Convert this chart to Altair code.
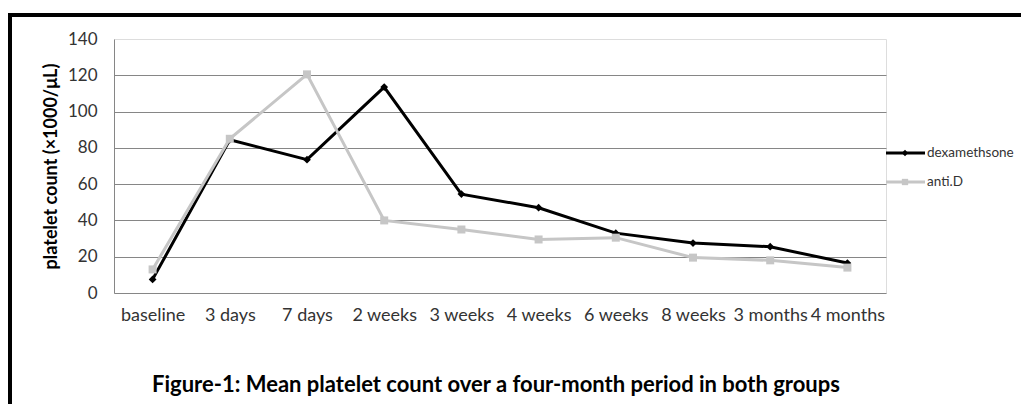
import altair as alt
import pandas as pd

categories = ["baseline", "3 days", "7 days", "2 weeks", "3 weeks", "4 weeks",
              "6 weeks", "8 weeks", "3 months", "4 months"]
dexamethsone = [7.5, 84.5, 73.5, 113.5, 54.5, 47, 33, 27.5, 25.5, 16.5]
anti_d = [13, 85, 120.5, 40, 35, 29.5, 30.5, 19.5, 18, 14]
series_names = ["dexamethsone", "anti.D"]
y_ticks = [0, 20, 40, 60, 80, 100, 120, 140]
y_title = "platelet count (×1000/μL)"
caption = "Figure-1: Mean platelet count over a four-month period in both groups"

W, H = 772, 254
FONT = "Lato"
DEX_COLOR = "#000000"
ANT_COLOR = "#c6c6c6"

df = pd.DataFrame({
    "cat": categories * 2,
    "v": dexamethsone + anti_d,
    "s": [series_names[0]] * len(categories) + [series_names[1]] * len(categories),
})
one = pd.DataFrame({"a": [0]})

x_enc = alt.X("cat:N", sort=categories,
              scale=alt.Scale(type="point", padding=0.5),
              axis=alt.Axis(labelAngle=0, domain=False, ticks=False, grid=False,
                            labelPadding=13, labelFontSize=18, labelFont=FONT,
                            labelColor="#333333", labelOverlap=False, labelBound=False,
                            title=None))
y_enc = alt.Y("v:Q", scale=alt.Scale(domain=[0, 140], nice=False, zero=True),
              axis=alt.Axis(values=y_ticks, grid=True, gridColor="#868686",
                            gridOpacity=alt.condition("datum.value == 140", alt.value(0), alt.value(1)),
                            domain=True, domainColor="#868686", ticks=False,
                            labelPadding=17, labelFontSize=17, labelFont=FONT,
                            labelColor="#333333", title=y_title, titleFont=FONT,
                            titleFontSize=18, titleFontWeight="bold", titleColor="#000000",
                            titleX=-54, titleY=H / 2, titleAngle=270,
                            titleAlign="center", titleBaseline="bottom"))

base = alt.Chart(df)
dex_line = base.transform_filter(alt.datum.s == series_names[0]).mark_line(
    color=DEX_COLOR, strokeWidth=3).encode(x=x_enc, y=y_enc)
dex_pts = base.transform_filter(alt.datum.s == series_names[0]).mark_point(
    shape="diamond", filled=True, color=DEX_COLOR, size=60, opacity=1).encode(x=x_enc, y=y_enc)
ant_line = base.transform_filter(alt.datum.s == series_names[1]).mark_line(
    color=ANT_COLOR, strokeWidth=3).encode(x=x_enc, y=y_enc)
ant_pts = base.transform_filter(alt.datum.s == series_names[1]).mark_point(
    shape="square", filled=True, color=ANT_COLOR, size=64, opacity=1).encode(x=x_enc, y=y_enc)

leg_dex_rule = alt.Chart(one).mark_rule(color=DEX_COLOR, strokeWidth=3).encode(
    x=alt.value(772), x2=alt.value(811), y=alt.value(114))
leg_dex_pt = alt.Chart(one).mark_point(shape="diamond", filled=True, color=DEX_COLOR,
                                       size=40, opacity=1).encode(x=alt.value(791), y=alt.value(114))
leg_ant_rule = alt.Chart(one).mark_rule(color=ANT_COLOR, strokeWidth=3).encode(
    x=alt.value(772), x2=alt.value(811), y=alt.value(143))
leg_ant_pt = alt.Chart(one).mark_point(shape="square", filled=True, color=ANT_COLOR,
                                       size=40, opacity=1).encode(x=alt.value(791), y=alt.value(143))
leg_dex_txt = alt.Chart(pd.DataFrame({"t": [series_names[0]]})).mark_text(
    font=FONT, fontSize=13.5, color="#333333", align="left", baseline="middle").encode(
    text="t:N", x=alt.value(813), y=alt.value(114))
leg_ant_txt = alt.Chart(pd.DataFrame({"t": [series_names[1]]})).mark_text(
    font=FONT, fontSize=13.5, color="#333333", align="left", baseline="middle").encode(
    text="t:N", x=alt.value(813), y=alt.value(143))

cap = alt.Chart(pd.DataFrame({"t": [caption]})).mark_text(
    font=FONT, fontSize=22, fontWeight="bold", color="#000000",
    align="center", baseline="alphabetic").encode(
    text="t:N", x=alt.value(382), y=alt.value(353))

frame = alt.Chart(one).mark_rect(filled=False, stroke="#000000", strokeWidth=4).encode(
    x=alt.value(-104), y=alt.value(-24), x2=alt.value(1300), y2=alt.value(700))

chart = alt.layer(
    dex_line, dex_pts, ant_line, ant_pts,
    leg_dex_rule, leg_dex_pt, leg_ant_rule, leg_ant_pt, leg_dex_txt, leg_ant_txt,
    cap, frame
).properties(
    width=W, height=H,
    autosize=alt.AutoSizeParams(type="none"),
    padding={"left": 106, "top": 31, "right": 135, "bottom": 111},
).configure_view(stroke=None).configure(background="#ffffff")

chart.save("out.html", embed_options={"renderer": "svg", "actions": False})
